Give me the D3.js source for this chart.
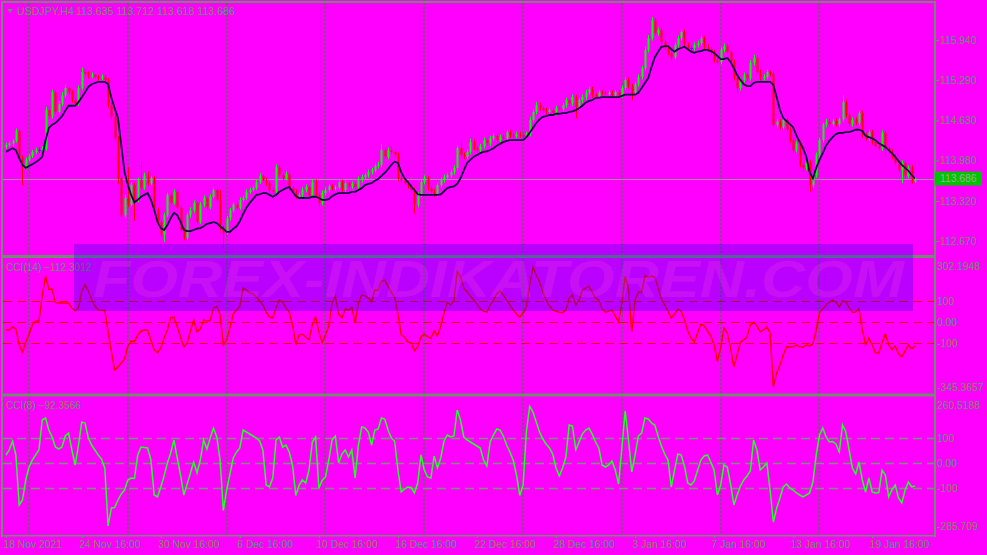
<!DOCTYPE html>
<html><head><meta charset="utf-8">
<script src="https://cdn.jsdelivr.net/npm/d3@7"></script>
<style>html,body{margin:0;padding:0;background:#ff00ff;}svg{display:block;}</style>
</head><body>
<svg id="c" width="987" height="555"></svg>
<script>
const symbolTitle = "USDJPY,H4";
const ohlcTitle = "113.635 113.712 113.618 113.686";
const lastPrice = 113.686;
const priceTicks = [115.940, 115.290, 114.630, 113.980, 113.320, 112.670];
const cci14Ticks = [302.1948, 100, 0, -100, -345.3657];
const cci14TickLabels = ["302.1948", "100", "0.00", "-100", "-345.3657"];
const cci8Ticks = [260.5188, 100, 0, -100, -285.709];
const cci8TickLabels = ["260.5188", "100", "0.00", "-100", "-285.709"];
const levels = [100, 0, -100];
const dateBars = [0, 23, 47, 71, 95, 119, 143, 167, 191, 215, 239, 263];
const dateLabels = ["18 Nov 2021", "24 Nov 16:00", "30 Nov 16:00", "6 Dec 16:00", "10 Dec 16:00", "16 Dec 16:00", "22 Dec 16:00", "28 Dec 16:00", "3 Jan 16:00", "7 Jan 16:00", "13 Jan 16:00", "19 Jan 16:00"];
const gridBars = [7, 37, 67, 97, 127, 157, 187, 217, 247];

const open = [
114.20,114.23,114.26,114.30,114.46,114.02,113.87,113.99,114.05,114.12,
114.15,114.15,114.17,114.80,114.70,115.09,114.77,114.90,115.04,115.16,
115.09,114.96,114.90,115.16,115.42,115.39,115.35,115.37,115.34,115.32,
115.34,115.29,114.88,114.69,114.34,113.69,113.09,113.37,113.26,113.58,
113.34,113.66,113.53,113.74,113.61,113.69,113.17,112.98,112.77,113.09,
113.42,113.29,113.47,113.21,112.85,112.72,113.09,113.17,113.29,112.98,
113.26,113.37,113.22,113.39,113.50,113.34,112.88,112.80,113.04,113.17,
113.26,113.21,113.34,113.37,113.47,113.50,113.53,113.63,113.73,113.66,
113.61,113.50,113.47,113.87,113.74,113.69,113.76,113.53,113.47,113.39,
113.42,113.50,113.55,113.40,113.63,113.42,113.29,113.45,113.50,113.56,
113.53,113.54,113.63,113.50,113.61,113.56,113.60,113.55,113.66,113.71,
113.74,113.79,113.82,113.89,113.91,114.15,114.04,114.15,114.12,114.07,
113.69,113.66,113.61,113.56,113.50,113.26,113.42,113.63,113.69,113.53,
113.47,113.43,113.58,113.66,113.71,113.74,113.79,113.86,114.18,114.07,
114.04,114.12,114.28,114.18,114.15,114.21,114.31,114.26,114.34,114.38,
114.31,114.36,114.34,114.44,114.39,114.38,114.41,114.39,114.38,114.41,
114.64,114.77,114.88,114.83,114.80,114.77,114.80,114.75,114.83,114.82,
114.88,114.96,114.91,115.01,114.85,114.96,115.01,115.09,115.14,115.04,
115.03,115.09,115.08,115.06,115.08,115.04,115.09,115.04,115.16,115.29,
115.19,115.08,115.22,115.34,115.48,115.78,115.97,116.26,116.05,116.10,
115.91,115.81,115.73,115.66,115.86,115.97,116.07,115.86,115.81,115.81,
115.86,115.89,115.96,115.83,115.79,115.74,115.61,115.58,115.78,115.84,
115.74,115.58,115.32,115.16,115.29,115.37,115.32,115.57,115.65,115.42,
115.32,115.34,115.42,115.39,114.56,114.61,114.52,114.64,114.48,114.31,
114.15,114.26,113.91,113.86,113.95,113.58,113.74,114.07,114.31,114.56,
114.61,114.57,114.62,114.57,114.65,114.93,114.72,114.57,114.64,114.59,
114.75,114.39,114.34,114.44,114.28,114.21,114.18,114.43,114.18,114.12,
114.04,113.94,113.82,113.94,113.73,113.86,113.635];

const high = [
114.27,114.30,114.33,114.50,114.49,114.06,114.03,114.09,114.15,114.19,
114.19,114.21,114.85,114.86,115.13,115.12,114.95,115.09,115.21,115.20,
115.12,115.00,115.20,115.49,115.47,115.43,115.41,115.40,115.37,115.38,
115.38,115.32,114.92,114.73,114.38,113.73,113.42,113.87,113.63,113.62,
113.70,113.97,113.78,113.80,113.73,113.73,113.21,113.02,113.13,113.46,
113.46,113.51,113.51,113.25,112.89,113.13,113.22,113.33,113.32,113.30,
113.41,113.40,113.43,113.55,113.54,113.50,112.92,113.08,113.21,113.30,
113.30,113.38,113.41,113.51,113.54,113.57,113.67,113.77,113.76,113.70,
113.65,113.54,113.92,113.91,113.78,113.80,113.80,113.57,113.51,113.46,
113.54,113.59,113.58,113.67,113.67,113.46,113.49,113.54,113.60,113.60,
113.58,113.67,113.67,113.65,113.65,113.64,113.64,113.72,113.75,113.78,
113.83,113.86,113.93,113.96,114.25,114.20,114.19,114.20,114.16,114.11,
113.73,113.70,113.65,113.60,113.54,113.46,113.67,113.74,113.73,113.57,
113.51,113.62,113.70,113.75,113.78,113.83,113.90,114.23,114.30,114.11,
114.16,114.33,114.32,114.22,114.25,114.35,114.35,114.38,114.43,114.42,
114.40,114.40,114.48,114.48,114.42,114.45,114.45,114.43,114.45,114.69,
114.82,114.93,114.92,114.87,114.84,114.84,114.84,114.87,114.87,114.92,
115.00,115.00,115.05,115.05,115.00,115.05,115.13,115.18,115.18,115.08,
115.13,115.12,115.11,115.12,115.12,115.13,115.13,115.20,115.33,115.33,
115.23,115.26,115.38,115.52,115.84,116.02,116.31,116.30,116.14,116.14,
115.95,115.85,115.77,115.90,116.01,116.12,116.11,115.90,115.85,115.90,
115.93,116.01,116.00,115.87,115.83,115.78,115.65,115.82,115.88,115.88,
115.78,115.62,115.36,115.33,115.41,115.41,115.61,115.70,115.69,115.46,
115.38,115.46,115.44,115.43,114.66,114.65,114.68,114.68,114.52,114.35,
114.30,114.30,113.95,113.99,113.99,113.78,114.11,114.35,114.60,114.66,
114.66,114.66,114.66,114.69,115.04,114.97,114.76,114.68,114.68,114.80,
114.79,114.43,114.48,114.48,114.32,114.25,114.47,114.47,114.22,114.16,
114.08,113.98,113.98,113.98,113.90,113.90,113.712];

const low = [
114.17,114.20,114.22,114.27,113.98,113.58,113.84,113.96,114.02,114.09,
114.10,114.11,114.14,114.65,114.66,114.73,114.74,114.87,115.00,115.05,
114.92,114.86,114.87,115.13,115.35,115.31,115.32,115.30,115.28,115.29,
115.25,114.84,114.64,114.29,113.60,113.05,113.05,113.22,113.23,113.00,
113.30,113.49,113.50,113.57,113.57,113.13,112.94,112.73,112.66,113.05,
113.25,113.26,113.17,112.81,112.68,112.69,113.05,113.13,112.94,112.95,
113.22,113.18,113.19,113.36,113.30,112.84,112.56,112.77,113.00,113.13,
113.17,113.18,113.31,113.34,113.44,113.47,113.50,113.60,113.62,113.57,
113.46,113.43,113.44,113.70,113.65,113.66,113.49,113.43,113.35,113.36,
113.38,113.46,113.36,113.37,113.38,113.22,113.25,113.41,113.46,113.49,
113.49,113.50,113.46,113.46,113.52,113.52,113.51,113.51,113.62,113.67,
113.70,113.75,113.78,113.85,113.87,114.00,114.00,114.08,114.03,113.64,
113.62,113.57,113.52,113.46,113.12,113.22,113.38,113.59,113.49,113.43,
113.39,113.39,113.54,113.62,113.68,113.70,113.75,113.82,114.03,114.00,
114.00,114.08,114.14,114.11,114.11,114.17,114.22,114.22,114.30,114.27,
114.27,114.30,114.30,114.35,114.34,114.34,114.35,114.34,114.34,114.37,
114.60,114.73,114.79,114.76,114.73,114.73,114.71,114.71,114.78,114.78,
114.84,114.87,114.87,114.67,114.81,114.92,114.97,115.05,115.00,114.99,
114.99,115.04,115.02,115.03,115.00,115.00,115.00,115.00,115.12,115.15,
114.96,115.04,115.18,115.30,115.44,115.74,115.93,116.01,116.01,115.87,
115.77,115.69,115.61,115.62,115.82,115.93,115.82,115.77,115.77,115.77,
115.82,115.85,115.79,115.75,115.70,115.57,115.54,115.54,115.74,115.70,
115.54,115.28,115.08,115.12,115.25,115.28,115.28,115.53,115.38,115.28,
115.28,115.30,115.35,114.52,114.52,114.48,114.48,114.44,114.27,114.09,
114.11,113.87,113.80,113.82,113.47,113.54,113.70,114.03,114.27,114.52,
114.53,114.53,114.53,114.53,114.61,114.68,114.53,114.53,114.55,114.55,
114.35,114.30,114.30,114.24,114.17,114.14,114.14,114.06,114.08,114.00,
113.90,113.78,113.61,113.69,113.69,113.60,113.618];

const close = [
114.23,114.26,114.30,114.46,114.02,113.87,113.99,114.05,114.12,114.15,
114.15,114.17,114.80,114.70,115.09,114.77,114.90,115.04,115.16,115.09,
114.96,114.90,115.16,115.42,115.39,115.35,115.37,115.34,115.32,115.34,
115.29,114.88,114.69,114.34,113.69,113.09,113.37,113.26,113.58,113.34,
113.66,113.53,113.74,113.61,113.69,113.17,112.98,112.77,113.09,113.42,
113.29,113.47,113.21,112.85,112.72,113.09,113.17,113.29,112.98,113.26,
113.37,113.22,113.39,113.50,113.34,112.88,112.80,113.04,113.17,113.26,
113.21,113.34,113.37,113.47,113.50,113.53,113.63,113.73,113.66,113.61,
113.50,113.47,113.87,113.74,113.69,113.76,113.53,113.47,113.39,113.42,
113.50,113.55,113.40,113.63,113.42,113.29,113.45,113.50,113.56,113.53,
113.54,113.63,113.50,113.61,113.56,113.60,113.55,113.66,113.71,113.74,
113.79,113.82,113.89,113.91,114.15,114.04,114.15,114.12,114.07,113.69,
113.66,113.61,113.56,113.50,113.26,113.42,113.63,113.69,113.53,113.47,
113.43,113.58,113.66,113.71,113.74,113.79,113.86,114.18,114.07,114.04,
114.12,114.28,114.18,114.15,114.21,114.31,114.26,114.34,114.38,114.31,
114.36,114.34,114.44,114.39,114.38,114.41,114.39,114.38,114.41,114.64,
114.77,114.88,114.83,114.80,114.77,114.80,114.75,114.83,114.82,114.88,
114.96,114.91,115.01,114.85,114.96,115.01,115.09,115.14,115.04,115.03,
115.09,115.08,115.06,115.08,115.04,115.09,115.04,115.16,115.29,115.19,
115.08,115.22,115.34,115.48,115.78,115.97,116.26,116.05,116.10,115.91,
115.81,115.73,115.66,115.86,115.97,116.07,115.86,115.81,115.81,115.86,
115.89,115.96,115.83,115.79,115.74,115.61,115.58,115.78,115.84,115.74,
115.58,115.32,115.16,115.29,115.37,115.32,115.57,115.65,115.42,115.32,
115.34,115.42,115.39,114.56,114.61,114.52,114.64,114.48,114.31,114.15,
114.26,113.91,113.86,113.95,113.58,113.74,114.07,114.31,114.56,114.61,
114.57,114.62,114.57,114.65,114.93,114.72,114.57,114.64,114.59,114.75,
114.39,114.34,114.44,114.28,114.21,114.18,114.43,114.18,114.12,114.04,
113.94,113.82,113.94,113.73,113.86,113.635,113.686];

const ma = [
114.12,114.15,114.18,114.15,114.02,113.91,113.86,113.89,113.92,113.95,
113.99,114.04,114.31,114.51,114.56,114.59,114.64,114.70,114.79,114.87,
114.87,114.87,114.93,115.01,115.09,115.18,115.22,115.24,115.26,115.26,
115.26,115.22,115.00,114.83,114.67,114.23,113.79,113.58,113.42,113.30,
113.34,113.39,113.42,113.45,113.34,113.18,112.98,112.88,112.85,112.93,
113.04,113.13,113.09,112.98,112.85,112.83,112.83,112.85,112.87,112.88,
112.91,112.95,112.96,112.98,112.96,112.91,112.87,112.82,112.82,112.87,
112.91,112.99,113.11,113.21,113.29,113.35,113.42,113.43,113.45,113.45,
113.42,113.39,113.42,113.47,113.50,113.53,113.55,113.47,113.40,113.37,
113.37,113.37,113.37,113.39,113.39,113.37,113.34,113.34,113.35,113.40,
113.43,113.45,113.45,113.45,113.45,113.47,113.47,113.50,113.53,113.58,
113.60,113.61,113.65,113.68,113.73,113.78,113.84,113.91,113.96,113.94,
113.79,113.69,113.63,113.56,113.50,113.43,113.42,113.42,113.42,113.42,
113.42,113.42,113.43,113.48,113.53,113.55,113.56,113.60,113.69,113.82,
113.94,113.99,114.04,114.07,114.10,114.12,114.13,114.15,114.18,114.22,
114.25,114.28,114.30,114.31,114.31,114.31,114.31,114.31,114.36,114.43,
114.51,114.59,114.65,114.69,114.70,114.72,114.72,114.74,114.74,114.75,
114.75,114.77,114.78,114.80,114.83,114.87,114.92,114.95,114.96,115.00,
115.00,115.01,115.01,115.01,115.01,115.01,115.01,115.03,115.05,115.05,
115.05,115.05,115.08,115.16,115.24,115.32,115.50,115.66,115.75,115.83,
115.84,115.84,115.79,115.75,115.79,115.81,115.83,115.79,115.75,115.73,
115.75,115.76,115.78,115.78,115.76,115.73,115.68,115.63,115.63,115.65,
115.58,115.48,115.37,115.29,115.22,115.19,115.19,115.24,115.26,115.26,
115.26,115.26,115.26,115.21,115.01,114.80,114.67,114.62,114.57,114.52,
114.39,114.28,114.18,114.04,113.79,113.69,113.86,113.99,114.10,114.22,
114.30,114.36,114.41,114.43,114.43,114.44,114.44,114.46,114.48,114.48,
114.46,114.38,114.36,114.34,114.31,114.26,114.23,114.20,114.15,114.10,
114.04,113.97,113.91,113.86,113.81,113.74,113.69];

const cci14 = [
-37,-37,-23,-32,-108,-141,-94,-56,-13,5,
5,124,218,156,156,92,90,91,90,89,
67,53,67,147,176,147,105,76,57,56,
55,-46,-141,-226,-212,-193,-174,-113,-89,-91,
-61,-42,-37,-39,-84,-131,-145,-122,-75,-37,
20,24,-23,-70,-117,-98,-42,10,-46,-32,
10,5,8,67,76,34,-108,-84,-27,38,
57,76,161,152,138,133,119,100,81,48,
24,20,67,105,95,67,48,-13,-108,-61,
-56,-70,-84,-13,24,-46,-98,-61,-18,90,
124,38,20,62,57,71,-4,90,128,124,
114,95,152,151,194,199,170,142,118,38,
-61,-70,-94,-98,-136,-117,-70,-56,-70,-75,
-42,-65,-18,43,95,81,100,240,215,161,
142,123,105,85,62,52,47,81,104,133,
147,128,104,81,57,38,24,43,71,175,
260,223,189,142,104,76,57,52,47,46,
57,114,128,81,104,152,161,170,142,114,
104,62,47,52,57,28,0,90,215,161,
-46,104,142,140,218,213,218,213,161,109,
81,52,19,38,62,52,10,-42,-75,-94,
-51,-9,-18,-42,-65,-108,-185,-122,-27,-51,
-122,-212,-155,-94,-84,-70,-13,0,-18,-46,
-37,-23,-51,-306,-240,-202,-155,-117,-118,-116,
-108,-117,-119,-108,-112,-103,-37,43,62,81,
95,104,95,71,100,96,67,47,48,62,
-37,-108,-75,-108,-145,-146,-98,-56,-108,-131,
-112,-150,-164,-136,-108,-127,-112.3012];

const cci8 = [
32,52,88,32,-168,-148,-68,-16,12,32,
52,172,180,132,104,64,56,64,108,120,
52,-8,72,164,160,100,72,52,32,16,
-20,-252,-180,-178,-148,-124,-108,-68,-60,-62,
32,64,62,60,12,-128,-136,-96,-52,0,
40,92,20,-48,-128,-84,-40,4,-40,12,
92,56,100,140,104,12,-190,-108,-44,20,
44,60,132,124,116,108,100,88,52,-88,
-96,-60,92,104,64,72,44,-8,-130,-88,
-68,-80,-28,84,104,-100,-70,-56,12,92,
108,0,36,52,24,52,-60,72,144,140,
124,72,132,136,180,176,132,100,88,-28,
-116,-104,-96,-98,-120,-80,32,-28,-56,-60,
28,-20,20,88,112,104,108,212,172,104,
92,84,76,68,60,12,-12,84,112,136,
132,108,72,44,12,-48,-130,-88,124,228,
204,164,124,96,76,60,36,-20,-52,-20,
24,152,148,52,84,116,132,140,116,84,
60,-8,-16,-8,8,-28,-84,60,208,92,
-36,32,108,120,180,176,160,152,108,68,
36,12,-96,-28,36,32,-12,-80,-88,-72,
-28,12,28,32,4,-28,-128,-88,-8,-16,
-84,-168,-128,-92,-68,-52,-32,92,52,-28,
-16,0,-108,-236,-180,-140,-96,-84,-100,-108,
-120,-128,-136,-128,-120,-76,32,112,140,104,
84,86,76,44,152,124,52,-20,-44,4,
-68,-116,-60,-116,-120,-118,-28,-48,-136,-108,
-88,-140,-160,-108,-76,-96,-92.3566];

const W = 987, H = 555;
const FG = "#62985f";
const FRAME = "#6f8c6f";
const FONT = "'Liberation Sans', Arial, sans-serif";
const svg = d3.select("#c");
svg.append("rect").attr("width", W).attr("height", H).attr("fill", "#ff00ff");

const N = close.length;
const idx = d3.range(N);
const x = d3.scaleLinear().domain([0, N - 1]).range([6, 915]);
const yP = d3.scaleLinear().domain([112.410, 116.558]).range([257, 2]);
const y14 = d3.scaleLinear().domain([-345.3657, 302.1948]).range([395.2, 258.2]);
const y8 = d3.scaleLinear().domain([-285.709, 260.5188]).range([534.4, 397.9]);

// vertical dotted grid
svg.append("g").selectAll("line").data(gridBars).join("line")
  .attr("x1", d => Math.round(x(d))).attr("x2", d => Math.round(x(d)))
  .attr("y1", 3).attr("y2", 535)
  .attr("stroke", "#0a9a0a").attr("stroke-width", 1.3).attr("stroke-dasharray", "2,2");

// bid line
svg.append("line").attr("x1", 3).attr("x2", 935)
  .attr("y1", Math.round(yP(lastPrice)) + 0.5).attr("y2", Math.round(yP(lastPrice)) + 0.5)
  .attr("stroke", "#a08ca0").attr("stroke-width", 1);

// candles
const col = i => close[i] > open[i] ? "#00ff00" : (close[i] < open[i] ? "#ff0000" : "#0000ff");
const cg = svg.append("g");
cg.selectAll("line").data(idx).join("line")
  .attr("x1", i => Math.round(x(i)) + 0.5).attr("x2", i => Math.round(x(i)) + 0.5)
  .attr("y1", i => yP(high[i])).attr("y2", i => yP(low[i]))
  .attr("stroke", col).attr("stroke-width", 1);
cg.selectAll("rect").data(idx).join("rect")
  .attr("x", i => Math.round(x(i)) - 0.5)
  .attr("width", 2)
  .attr("y", i => yP(Math.max(open[i], close[i])))
  .attr("height", i => Math.max(1, Math.abs(yP(open[i]) - yP(close[i]))))
  .attr("fill", col);

// moving average
svg.append("path").datum(idx)
  .attr("d", d3.line().x(i => x(i)).y(i => yP(ma[i])))
  .attr("fill", "none").attr("stroke", "#0a0a40").attr("stroke-width", 1.8);

// CCI levels
svg.append("g").selectAll("line").data(levels).join("line")
  .attr("x1", 3).attr("x2", 935)
  .attr("y1", d => Math.round(y14(d)) + 0.5).attr("y2", d => Math.round(y14(d)) + 0.5)
  .attr("stroke", "#ff0000").attr("stroke-width", 1).attr("stroke-dasharray", "9,5");
svg.append("g").selectAll("line").data(levels).join("line")
  .attr("x1", 3).attr("x2", 935)
  .attr("y1", d => Math.round(y8(d)) + 0.5).attr("y2", d => Math.round(y8(d)) + 0.5)
  .attr("stroke", "#6f9a6f").attr("stroke-width", 1.3).attr("stroke-dasharray", "9,5");

svg.append("path").datum(idx)
  .attr("d", d3.line().x(i => x(i)).y(i => y14(cci14[i])))
  .attr("fill", "none").attr("stroke", "#ff0000").attr("stroke-width", 1.5);
svg.append("path").datum(idx)
  .attr("d", d3.line().x(i => x(i)).y(i => y8(cci8[i])))
  .attr("fill", "none").attr("stroke", "#22ff22").attr("stroke-width", 1.5);

// frames
const fr = svg.append("g").attr("fill", FRAME);
fr.append("rect").attr("x", 1).attr("y", 1).attr("width", 935).attr("height", 2);
fr.append("rect").attr("x", 1).attr("y", 1).attr("width", 2).attr("height", 536);
fr.append("rect").attr("x", 934).attr("y", 1).attr("width", 2).attr("height", 536);
fr.append("rect").attr("x", 1).attr("y", 255).attr("width", 935).attr("height", 3);
fr.append("rect").attr("x", 1).attr("y", 393.5).attr("width", 935).attr("height", 3);
fr.append("rect").attr("x", 1).attr("y", 535).attr("width", 935).attr("height", 1.5);

// price axis
const ax = svg.append("g").attr("transform", "translate(935,0)")
  .call(d3.axisRight(yP).tickValues(priceTicks).tickSize(4).tickPadding(1).tickFormat(d3.format(".3f")));
ax.select(".domain").remove();
ax.selectAll("line").attr("stroke", FG);
ax.selectAll("text").attr("fill", FG).style("font", "10.3px " + FONT);

// current price box
const yl = yP(lastPrice);
svg.append("rect").attr("x", 935).attr("y", yl - 7).attr("width", 47).attr("height", 14).attr("fill", "#00c400");
svg.append("text").attr("x", 940).attr("y", yl).attr("dy", "0.35em").attr("fill", "#9ab09a")
  .style("font", "10.3px " + FONT).text(d3.format(".3f")(lastPrice));

// CCI axes
function cciAxis(scale, ticks, labels) {
  const g = svg.append("g").attr("transform", "translate(935,0)")
    .call(d3.axisRight(scale).tickValues(ticks).tickSize(0).tickPadding(2).tickFormat((d, i) => labels[i]));
  g.select(".domain").remove();
  g.selectAll("text").attr("fill", FG).style("font", "10.3px " + FONT)
    .attr("dy", (d, i) => i === 0 ? "1.05em" : (i === ticks.length - 1 ? "-0.45em" : "0.32em"));
}
cciAxis(y14, cci14Ticks, cci14TickLabels);
cciAxis(y8, cci8Ticks, cci8TickLabels);

// date axis
const dx = svg.append("g").attr("transform", "translate(0,535)")
  .call(d3.axisBottom(x).tickValues(dateBars).tickSize(3).tickPadding(3).tickFormat((d, i) => dateLabels[i]));
dx.select(".domain").remove();
dx.selectAll("line").attr("stroke", FG);
dx.selectAll("text").attr("fill", FG).attr("text-anchor", "start").attr("x", -3).style("font", "10.3px " + FONT);

// titles
svg.append("path").attr("d", "M7,9L13,9L10,13Z").attr("fill", FG);
svg.append("text").attr("x", 17).attr("y", 15).attr("fill", FG).style("font", "10.6px " + FONT).text(symbolTitle);
svg.append("text").attr("x", 76).attr("y", 15).attr("fill", FG).style("font", "10.6px " + FONT).text(ohlcTitle);
svg.append("text").attr("x", 6).attr("y", 271).attr("fill", FG).style("font", "10.1px " + FONT)
  .text("CCI(14) " + d3.format(".4f")(cci14[N - 1]));
svg.append("text").attr("x", 6).attr("y", 409).attr("fill", FG).style("font", "10.1px " + FONT)
  .text("CCI(8) " + d3.format(".4f")(cci8[N - 1]));

// watermark
svg.append("rect").attr("x", 74).attr("y", 244).attr("width", 839).attr("height", 67)
  .attr("fill", "rgba(0,0,255,0.27)");
svg.append("text").attr("x", 93).attr("y", 297)
  .attr("textLength", 811).attr("lengthAdjust", "spacingAndGlyphs")
  .attr("fill", "rgba(255,70,210,0.22)")
  .style("font", "italic bold 52px " + FONT)
  .text("FOREX-INDIKATOREN.COM");
</script>
</body></html>
